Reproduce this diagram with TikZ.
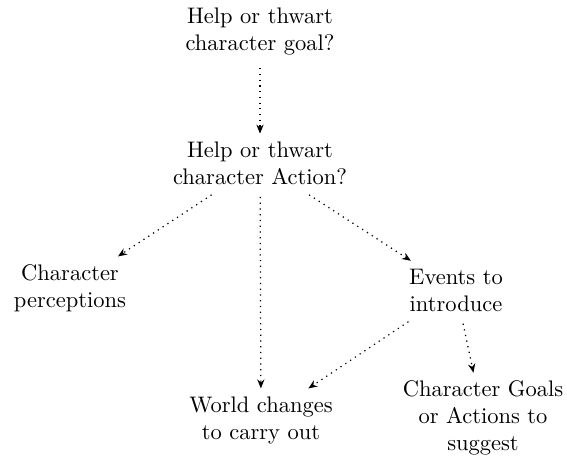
\documentclass[tikz,border=0pt]{standalone}
\usetikzlibrary{arrows.meta}
\begin{document}
\begin{tikzpicture}[x=0.4444pt,y=-0.4444pt,
  box/.style={align=center,font=\normalsize},
  link/.style={dotted,line width=0.55pt,shorten <=2pt,-{Stealth[length=4pt,width=3.2pt]}}]
\useasboundingbox (0,0) rectangle (567,458);
\node[box] (goal) at (260,32) {Help or thwart\\character goal?};
\node[box] (act) at (260,163) {Help or thwart\\character Action?};
\node[box] (perc) at (70,288) {Character\\perceptions};
\node[box] (ev) at (456,290) {Events to\\introduce};
\node[box] (world) at (261,420) {World changes\\to carry out};
\node[box] (sugg) at (483,418) {Character Goals\\or Actions to\\suggest};
\draw[link] (goal) -- (act);
\draw[link] (act) -- (perc);
\draw[link] (act) -- (world);
\draw[link] (act) -- (ev);
\draw[link] (ev) -- (world);
\draw[link] (ev) -- (sugg);
\end{tikzpicture}
\end{document}
